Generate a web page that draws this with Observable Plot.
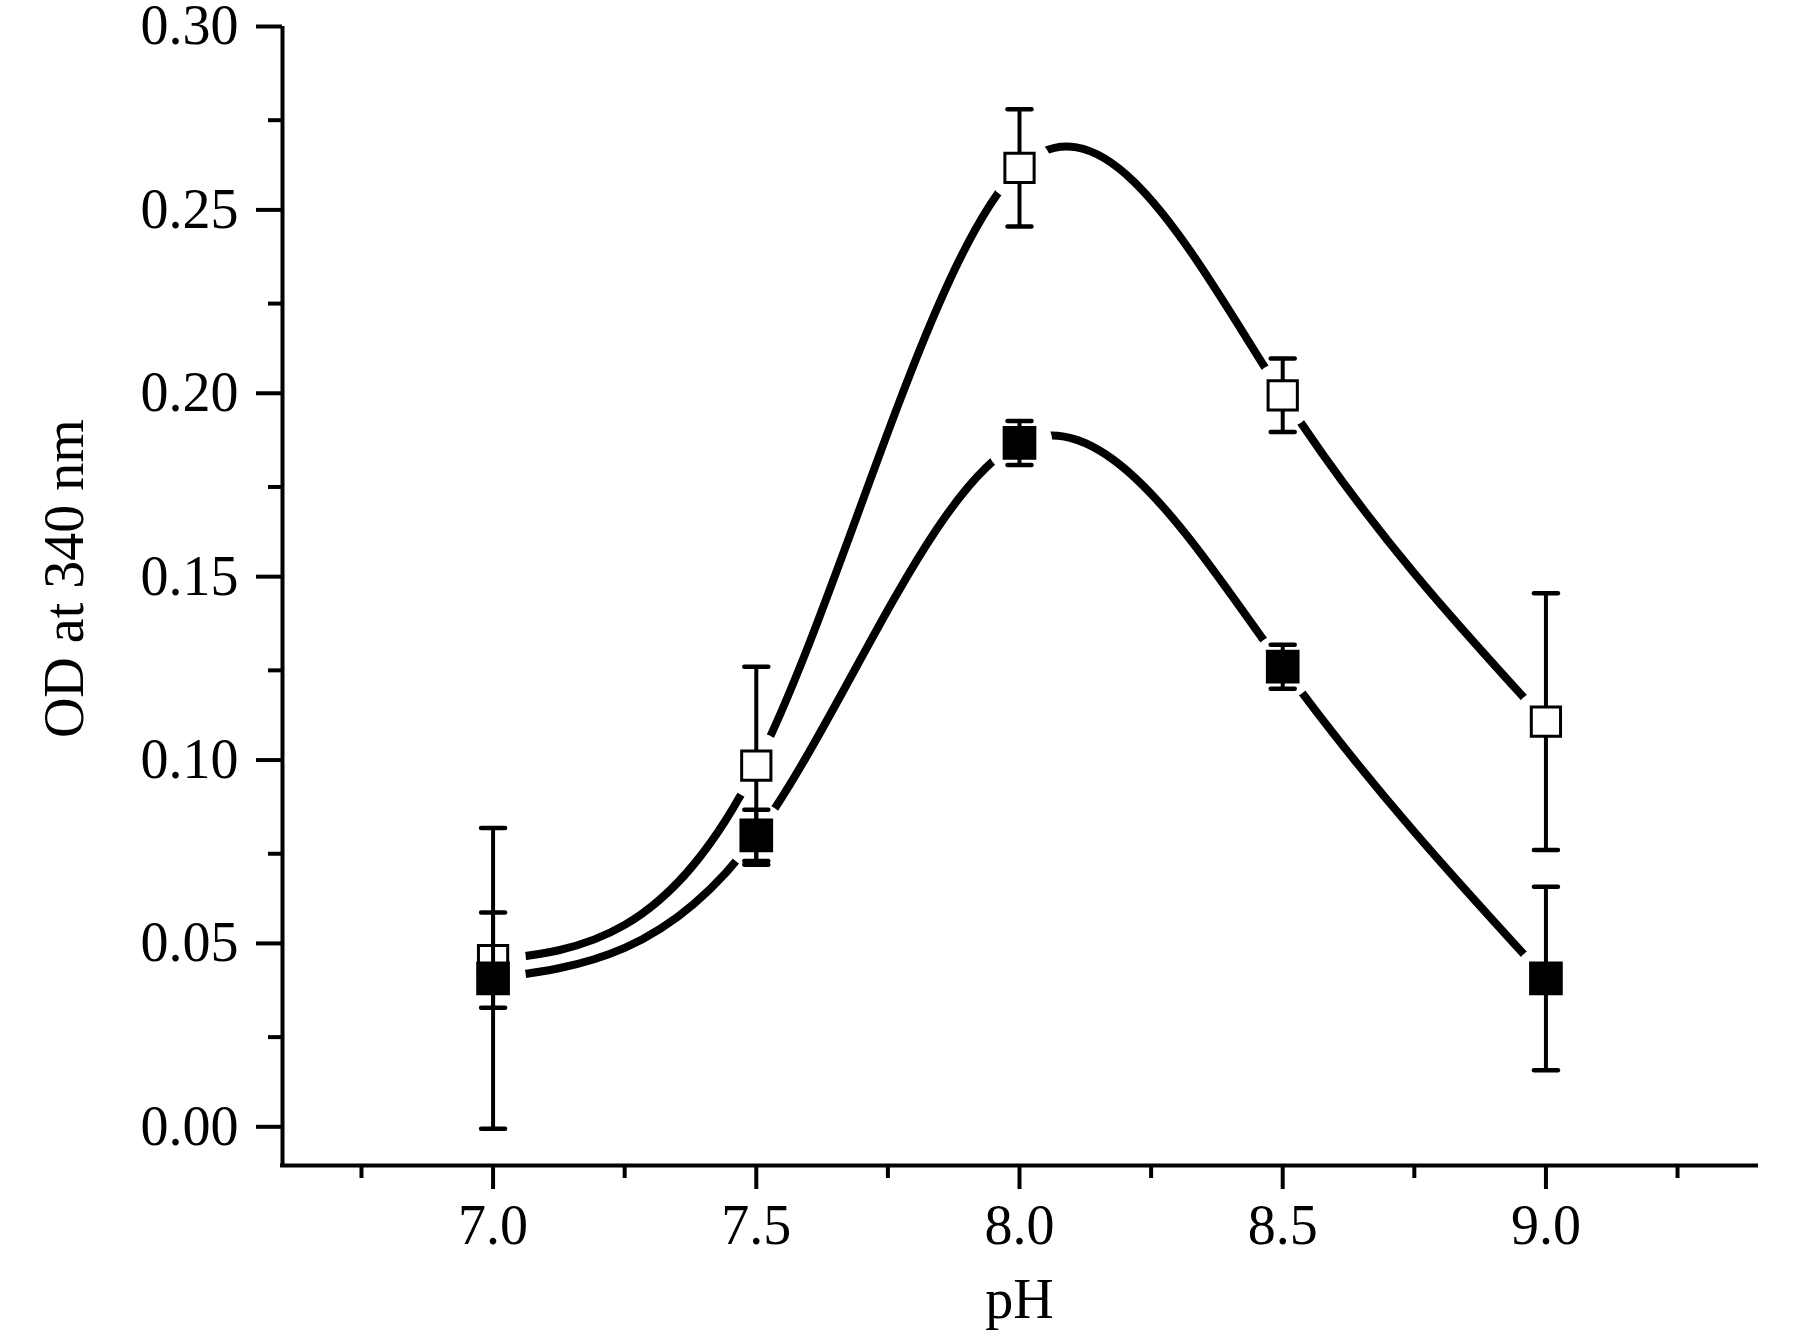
<!DOCTYPE html>
<html>
<head>
<meta charset="utf-8">
<script src="https://cdn.jsdelivr.net/npm/d3@7"></script>
<script src="https://cdn.jsdelivr.net/npm/@observablehq/plot@0.6"></script>
<style>
  html, body { margin: 0; padding: 0; background: #fff; }
</style>
</head>
<body>
<div id="chart"></div>
<script>
// ---- data ----
const pH = [7.0, 7.5, 8.0, 8.5, 9.0];
const openMean   = [0.046, 0.099, 0.262, 0.200, 0.111];
const openErr    = [0.013, 0.027, 0.016, 0.010, 0.035];
const filledMean = [0.041, 0.080, 0.187, 0.126, 0.041];
const filledErr  = [0.041, 0.007, 0.006, 0.006, 0.025];

const xTicks = [7.0, 7.5, 8.0, 8.5, 9.0];
const xMinorTicks = [6.75, 7.25, 7.75, 8.25, 8.75, 9.25];
const yTicks = [0.00, 0.05, 0.10, 0.15, 0.20, 0.25, 0.30];
const yMinorTicks = [0.025, 0.075, 0.125, 0.175, 0.225, 0.275];
const xDomain = [6.6, 9.4];
const yDomain = [-0.01, 0.30];
const xLabel = "pH";
const yLabel = "OD at 340 nm";

const rows = (mean, err) => pH.map((x, i) => ({x, y: mean[i], lo: mean[i] - err[i], hi: mean[i] + err[i]}));
const openRows = rows(openMean, openErr);
const filledRows = rows(filledMean, filledErr);

const capSymbol = {
  draw(ctx, size) {
    const r = Math.sqrt(size / Math.PI);
    ctx.moveTo(-r, 0);
    ctx.lineTo(r, 0);
  }
};

const seriesMarks = (data, filled) => [
  Plot.ruleX(data, {x: "x", y1: "lo", y2: "hi", stroke: "black", strokeWidth: 4}),
  Plot.dot(data, {x: "x", y: "hi", symbol: capSymbol, r: 12, fill: "none", stroke: "black", strokeWidth: 4.5, strokeLinecap: "round"}),
  Plot.dot(data, {x: "x", y: "lo", symbol: capSymbol, r: 12, fill: "none", stroke: "black", strokeWidth: 4.5, strokeLinecap: "round"}),
  filled
    ? Plot.dot(data, {x: "x", y: "y", symbol: "square", r: 19, fill: "black", stroke: "none"})
    : Plot.dot(data, {x: "x", y: "y", symbol: "square", r: 16.5, fill: "white", stroke: "black", strokeWidth: 3})
];

const plot = Plot.plot({
  width: 1800,
  height: 1333,
  marginLeft: 282,
  marginRight: 44,
  marginTop: 28,
  marginBottom: 168,
  style: {fontFamily: "'Liberation Serif', 'Times New Roman', serif", fontSize: "56px", background: "white", color: "black", overflow: "visible"},
  x: {domain: xDomain},
  y: {domain: yDomain},
  marks: [
    // curves
    Plot.line(openRows, {x: "x", y: "y", curve: "natural", stroke: "black", strokeWidth: 8, strokeLinecap: "round"}),
    Plot.line(filledRows, {x: "x", y: "y", curve: "natural", stroke: "black", strokeWidth: 8, strokeLinecap: "round"}),
    // axes lines
    Plot.ruleY([yDomain[0]], {stroke: "black", strokeWidth: 4, strokeLinecap: "square"}),
    Plot.ruleX([xDomain[0]], {y1: yDomain[0], y2: yTicks[yTicks.length - 1], stroke: "black", strokeWidth: 4, strokeLinecap: "square"}),
    // axes
    Plot.axisX({ticks: xTicks, tickFormat: d3.format(".1f"), tickSize: 24, tickPadding: 15, strokeWidth: 4, fontSize: 56, label: null}),
    Plot.axisX({ticks: xMinorTicks, tickFormat: () => "", tickSize: 13, strokeWidth: 4, label: null}),
    Plot.axisY({ticks: yTicks, tickFormat: d3.format(".2f"), tickSize: 26, tickPadding: 18, strokeWidth: 4, fontSize: 56, dy: -2, label: null}),
    Plot.axisY({ticks: yMinorTicks, tickFormat: () => "", tickSize: 14, strokeWidth: 4, label: null}),
    // axis titles
    Plot.text([xLabel], {frameAnchor: "bottom", text: d => d, dy: 135, lineAnchor: "middle", fontSize: 56, fill: "black"}),
    Plot.text([yLabel], {frameAnchor: "left", y: [(yTicks[0] + yTicks[yTicks.length - 1]) / 2], text: d => d, dx: -217, rotate: -90, lineAnchor: "middle", textAnchor: "middle", fontSize: 56, fill: "black"}),
    // error bars and markers
    ...seriesMarks(openRows, false),
    ...seriesMarks(filledRows, true)
  ]
});

// gaps of the connecting curves around their own symbols (Origin style)
(function addGaps() {
  const sx = plot.scale("x"), sy = plot.scale("y");
  const fx = sx.apply ? (v) => sx.apply(v) : d3.scaleLinear(sx.domain, sx.range);
  const fy = sy.apply ? (v) => sy.apply(v) : d3.scaleLinear(sy.domain, sy.range);
  const ns = "http://www.w3.org/2000/svg";
  const defs = document.createElementNS(ns, "defs");
  plot.insertBefore(defs, plot.firstChild);
  const lines = plot.querySelectorAll('g[aria-label="line"]');
  [openMean, filledMean].forEach((mean, s) => {
    const mask = document.createElementNS(ns, "mask");
    mask.setAttribute("id", "gap-mask-" + s);
    mask.setAttribute("maskUnits", "userSpaceOnUse");
    mask.setAttribute("x", 0); mask.setAttribute("y", 0);
    mask.setAttribute("width", 1800); mask.setAttribute("height", 1333);
    const rect = document.createElementNS(ns, "rect");
    rect.setAttribute("width", 1800); rect.setAttribute("height", 1333); rect.setAttribute("fill", "white");
    mask.appendChild(rect);
    pH.forEach((x, i) => {
      const c = document.createElementNS(ns, "circle");
      c.setAttribute("cx", fx(x)); c.setAttribute("cy", fy(mean[i])); c.setAttribute("r", 33);
      c.setAttribute("fill", "black");
      mask.appendChild(c);
    });
    defs.appendChild(mask);
    if (lines[s]) lines[s].setAttribute("mask", "url(#gap-mask-" + s + ")");
  });
})();

document.getElementById("chart").appendChild(plot);
</script>
</body>
</html>
